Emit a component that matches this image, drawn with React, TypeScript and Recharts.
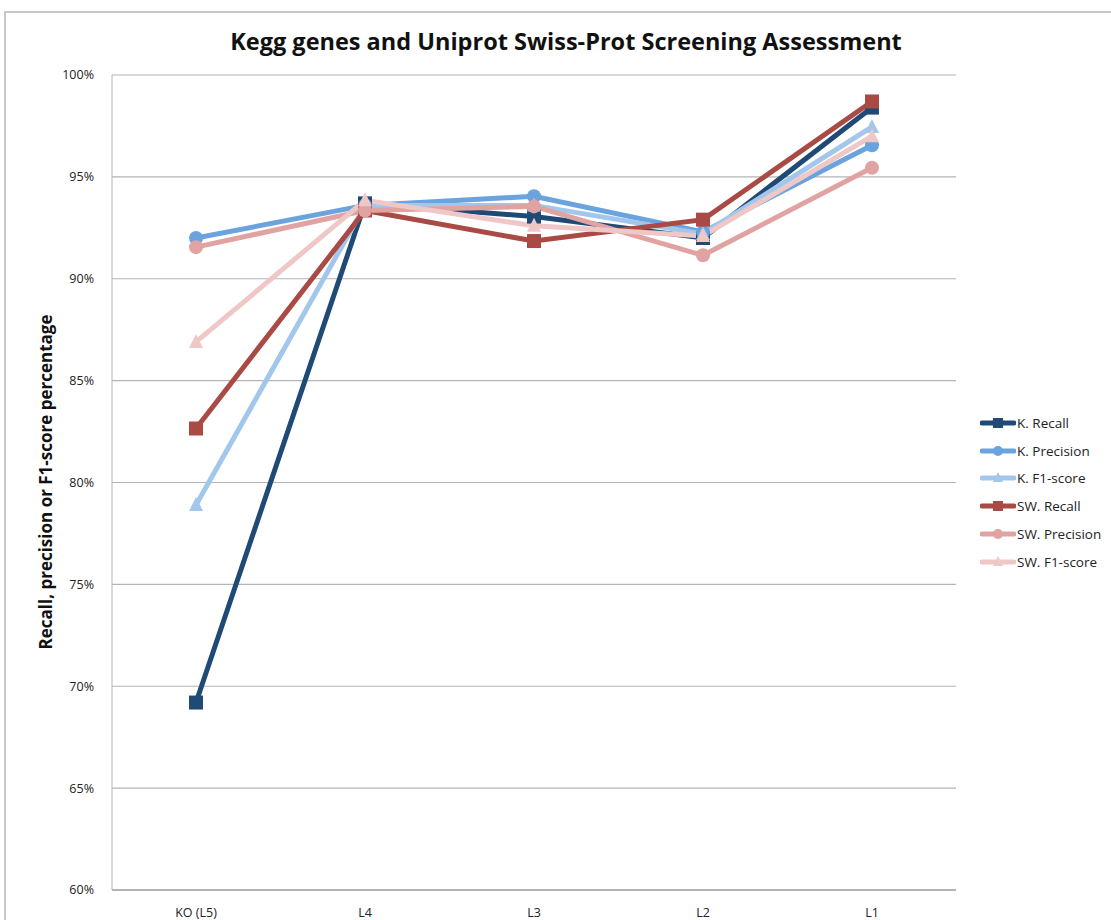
import React from "react"
import { LineChart, Line, XAxis, YAxis, CartesianGrid } from "recharts"

const categories = ["KO (L5)", "L4", "L3", "L2", "L1"]
const kRecall = [69.2, 93.7, 93.05, 92.0, 98.4]
const kPrecision = [92.0, 93.6, 94.05, 92.3, 96.55]
const kF1 = [78.9, 93.6, 93.6, 92.2, 97.45]
const swRecall = [82.65, 93.35, 91.85, 92.9, 98.7]
const swPrecision = [91.55, 93.35, 93.55, 91.15, 95.45]
const swF1 = [86.9, 93.85, 92.6, 92.1, 97.0]
const yTicks = [60, 65, 70, 75, 80, 85, 90, 95, 100]

const series = [
  { key: "kRecall", name: "K. Recall", values: kRecall, color: "#1f4a76", shape: "square" },
  { key: "kPrecision", name: "K. Precision", values: kPrecision, color: "#6aa3dd", shape: "circle" },
  { key: "kF1", name: "K. F1-score", values: kF1, color: "#a3c7ec", shape: "triangle" },
  { key: "swRecall", name: "SW. Recall", values: swRecall, color: "#a94a45", shape: "square" },
  { key: "swPrecision", name: "SW. Precision", values: swPrecision, color: "#e0a3a1", shape: "circle" },
  { key: "swF1", name: "SW. F1-score", values: swF1, color: "#efc7c6", shape: "triangle" },
]

const data = categories.map((c, i) => {
  const row: Record<string, any> = { name: c }
  series.forEach((s) => (row[s.key] = s.values[i]))
  return row
})

function Marker({ cx, cy, color, shape, size = 7 }: any) {
  if (cx == null || cy == null) return null
  if (shape === "square")
    return <rect x={cx - size} y={cy - size} width={size * 2} height={size * 2} fill={color} />
  if (shape === "circle") return <circle cx={cx} cy={cy} r={size} fill={color} />
  return (
    <polygon
      points={`${cx},${cy - size - 1} ${cx - size},${cy + size - 1} ${cx + size},${cy + size - 1}`}
      fill={color}
    />
  )
}

function LegendBox() {
  return (
    <div
      style={{
        position: "absolute",
        left: 980,
        top: 409,
        fontFamily: "'Open Sans', sans-serif",
        fontSize: 13.5,
        color: "#222",
      }}
    >
      {series.map((s) => (
        <div key={s.key} style={{ display: "flex", alignItems: "center", height: 27.8 }}>
          <svg width={36} height={14}>
            <line x1={2} y1={7} x2={34} y2={7} stroke={s.color} strokeWidth={5} strokeLinecap="round" />
            <Marker cx={18} cy={7} color={s.color} shape={s.shape} size={5} />
          </svg>
          <span style={{ marginLeft: 1 }}>{s.name}</span>
        </div>
      ))}
    </div>
  )
}

export default function App() {
  return (
    <div style={{ position: "absolute", left: 0, top: 0, width: 1111, height: 920, background: "#fff", overflow: "hidden" }}>
      <div
        style={{
          position: "absolute",
          left: 4,
          top: 11,
          width: 1120,
          height: 920,
          borderTop: "2px solid #c8c8c8",
          borderLeft: "2px solid #c8c8c8",
        }}
      />
      <div
        style={{
          position: "absolute",
          top: 25,
          left: 0,
          width: 1132,
          textAlign: "center",
          fontFamily: "'Open Sans', sans-serif",
          fontWeight: "bold",
          fontSize: 23.5,
          color: "#111",
        }}
      >
        Kegg genes and Uniprot Swiss-Prot Screening Assessment
      </div>
      <div
        style={{
          position: "absolute",
          left: 45,
          top: 482,
          transform: "translate(-50%, -50%) rotate(-90deg)",
          whiteSpace: "nowrap",
          fontFamily: "'Open Sans', sans-serif",
          fontWeight: "bold",
          fontSize: 17,
          color: "#111",
        }}
      >
        Recall, precision or F1-score percentage
      </div>
      <LineChart width={1111} height={920} data={data} margin={{ top: 75, right: 155, bottom: 0, left: 52 }}>
        <CartesianGrid vertical={false} stroke="#b4b4b4" strokeWidth={1.2} />
        <XAxis
          dataKey="name"
          tickLine={false}
          axisLine={{ stroke: "#b4b4b4", strokeWidth: 2 }}
          height={30}
          padding={{ left: 84, right: 84 }}
          tick={{ fontFamily: "'Open Sans', sans-serif", fontSize: 12.5, fill: "#222" }}
          tickMargin={12}
        />
        <YAxis
          type="number"
          domain={[60, 100]}
          ticks={yTicks}
          width={60}
          tickLine={false}
          axisLine={{ stroke: "#b4b4b4" }}
          tickFormatter={(v) => `${v}%`}
          tick={{ fontFamily: "'Open Sans', sans-serif", fontSize: 12.5, fill: "#222" }}
          tickMargin={12}
        />
        {series.map((s) => (
          <Line
            key={s.key}
            dataKey={s.key}
            name={s.name}
            stroke={s.color}
            strokeWidth={5}
            isAnimationActive={false}
            dot={(p: any) => <Marker key={`${s.key}-${p.index}`} cx={p.cx} cy={p.cy} color={s.color} shape={s.shape} />}
            activeDot={false}
          />
        ))}
      </LineChart>
      <LegendBox />
    </div>
  )
}
